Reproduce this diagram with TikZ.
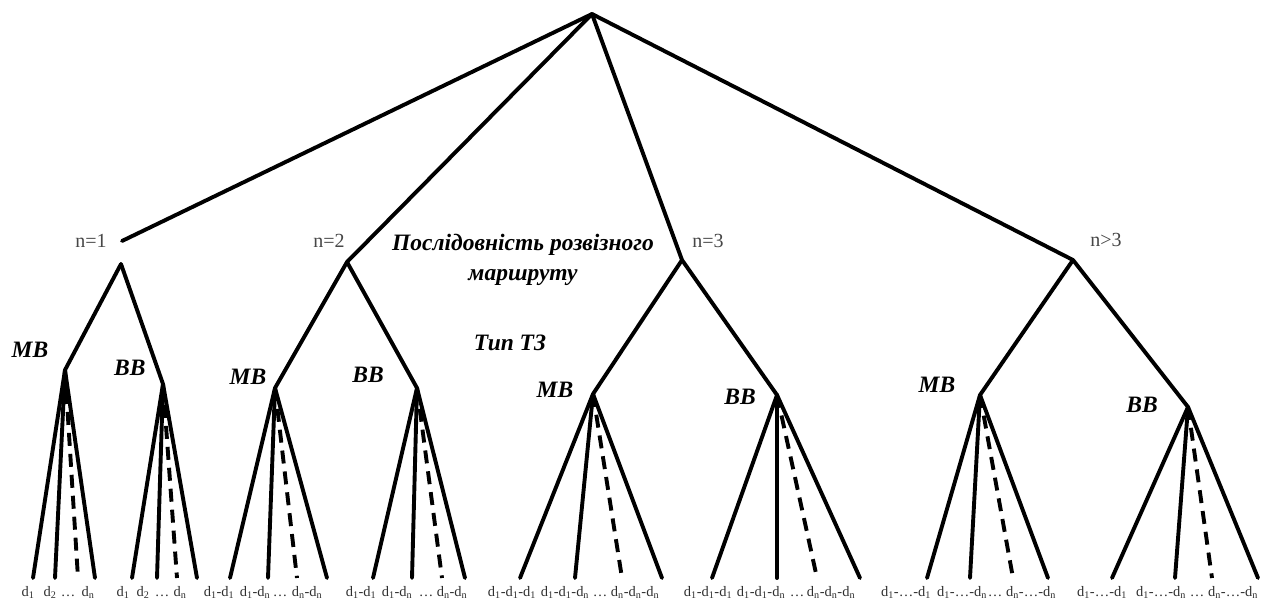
\documentclass[tikz,border=0pt]{standalone}
\usepackage{fontspec}
\setmainfont{Liberation Serif}
\newcommand\dsub[1]{d\textsubscript{#1}}
\newcommand\myfan[6]{%
  \coordinate (#1-l1) at (#3,578);
  \coordinate (#1-l2) at (#4,578);
  \coordinate (#1-l3) at (#5,578);
  \coordinate (#1-l4) at (#6,578);
  \draw[edge] (#2) -- (#1-l1);
  \draw[edge] (#2) -- (#1-l2);
  \draw[dashedge] (#2) -- (#1-l3);
  \draw[edge] (#2) -- (#1-l4);
}
\begin{document}
\begin{tikzpicture}[x=1pt,y=-1pt,
  edge/.style={line width=3.9pt, line cap=round},
  dashedge/.style={line width=3.9pt, dash pattern=on 13pt off 8pt},
  nlab/.style={font=\fontsize{20}{22}\selectfont, text=black!72, inner sep=0},
  tlab/.style={font=\fontsize{23.5}{30}\selectfont\bfseries\itshape, inner sep=0},
  dlab/.style={font=\fontsize{14.5}{16}\selectfont, text=black!82, inner sep=0, anchor=base}]
\useasboundingbox (0,0) rectangle (1265,604);

% vertices
\coordinate (root) at (592,14);
\coordinate (c1end) at (122,241);
\coordinate (a1) at (121,264);
\coordinate (a2) at (347,262);
\coordinate (a3) at (682,260);
\coordinate (a4) at (1073,260);
\coordinate (m1) at (65,370);
\coordinate (b1) at (163,384);
\coordinate (m2) at (275,388);
\coordinate (b2) at (417,388);
\coordinate (m3) at (593,394);
\coordinate (b3) at (777,395);
\coordinate (m4) at (980,395);
\coordinate (b4) at (1188,407);

% top level
\draw[edge] (root) -- (c1end);
\draw[edge] (root) -- (a2);
\draw[edge] (root) -- (a3);
\draw[edge] (root) -- (a4);

% second level
\draw[edge] (a1) -- (m1);
\draw[edge] (a1) -- (b1);
\draw[edge] (a2) -- (m2);
\draw[edge] (a2) -- (b2);
\draw[edge] (a3) -- (m3);
\draw[edge] (a3) -- (b3);
\draw[edge] (a4) -- (m4);
\draw[edge] (a4) -- (b4);

% fans
\myfan{fm1}{m1}{33}{55}{78}{95}
\myfan{fb1}{b1}{132}{157}{177}{197}
\myfan{fm2}{m2}{230}{268}{297}{327}
\myfan{fb2}{b2}{373}{412}{442}{465}
\myfan{fm3}{m3}{520}{575}{622}{662}
\myfan{fb3}{b3}{712}{777}{817}{860}
\myfan{fm4}{m4}{927}{970}{1013}{1048}
\myfan{fb4}{b4}{1112}{1175}{1212}{1258}

% n labels
\node[nlab] (n1) at (91,241) {n=1};
\node[nlab] (n2) at (329,241) {n=2};
\node[nlab] (n3) at (708,241) {n=3};
\node[nlab] (n4) at (1106,240) {n>3};

% titles
\node[tlab, align=center] (seq) at (523,260) {Послідовність розвізного\\маршруту};
\node[tlab] (type) at (510,343) {Тип ТЗ};

% MB / BB labels
\node[tlab] (lm1) at (30,350) {MB};
\node[tlab, fill=white, anchor=west, minimum height=34pt] (lb1) at (114,368) {BB\hspace{12pt}};
\node[tlab] (lm2) at (248,377) {MB};
\node[tlab] (lb2) at (368,375) {BB};
\node[tlab] (lm3) at (555,390) {MB};
\node[tlab] (lb3) at (740,397) {BB};
\node[tlab] (lm4) at (937,385) {MB};
\node[tlab] (lb4) at (1142,405) {BB};

% leaf labels
\node[dlab] (t11) at (28,596) {\dsub{1}};
\node[dlab] (t12) at (50,596) {\dsub{2}};
\node[dlab] (t13) at (68,596) {…};
\node[dlab] (t14) at (88,596) {\dsub{n}};

\node[dlab] (t21) at (123,596) {\dsub{1}};
\node[dlab] (t22) at (143,596) {\dsub{2}};
\node[dlab] (t23) at (162,596) {…};
\node[dlab] (t24) at (180,596) {\dsub{n}};

\node[dlab] (t31) at (219,596) {\dsub{1}-\dsub{1}};
\node[dlab] (t32) at (255,596) {\dsub{1}-\dsub{n}};
\node[dlab] (t33) at (280,596) {…};
\node[dlab] (t34) at (307,596) {\dsub{n}-\dsub{n}};

\node[dlab] (t41) at (361,596) {\dsub{1}-\dsub{1}};
\node[dlab] (t42) at (397,596) {\dsub{1}-\dsub{n}};
\node[dlab] (t43) at (426,596) {…};
\node[dlab] (t44) at (452,596) {\dsub{n}-\dsub{n}};

\node[dlab] (t51) at (512,596) {\dsub{1}-\dsub{1}-\dsub{1}};
\node[dlab] (t52) at (565,596) {\dsub{1}-\dsub{1}-\dsub{n}};
\node[dlab] (t53) at (600,596) {…};
\node[dlab] (t54) at (635,596) {\dsub{n}-\dsub{n}-\dsub{n}};

\node[dlab] (t61) at (708,596) {\dsub{1}-\dsub{1}-\dsub{1}};
\node[dlab] (t62) at (761,596) {\dsub{1}-\dsub{1}-\dsub{n}};
\node[dlab] (t63) at (797,596) {…};
\node[dlab] (t64) at (831,596) {\dsub{n}-\dsub{n}-\dsub{n}};

\node[dlab] (t71) at (906,596) {\dsub{1}-…-\dsub{1}};
\node[dlab] (t72) at (962,596) {\dsub{1}-…-\dsub{n}};
\node[dlab] (t73) at (995,596) {…};
\node[dlab] (t74) at (1031,596) {\dsub{n}-…-\dsub{n}};

\node[dlab] (t81) at (1102,596) {\dsub{1}-…-\dsub{1}};
\node[dlab] (t82) at (1161,596) {\dsub{1}-…-\dsub{n}};
\node[dlab] (t83) at (1197,596) {…};
\node[dlab] (t84) at (1233,596) {\dsub{n}-…-\dsub{n}};
\end{tikzpicture}
\end{document}
